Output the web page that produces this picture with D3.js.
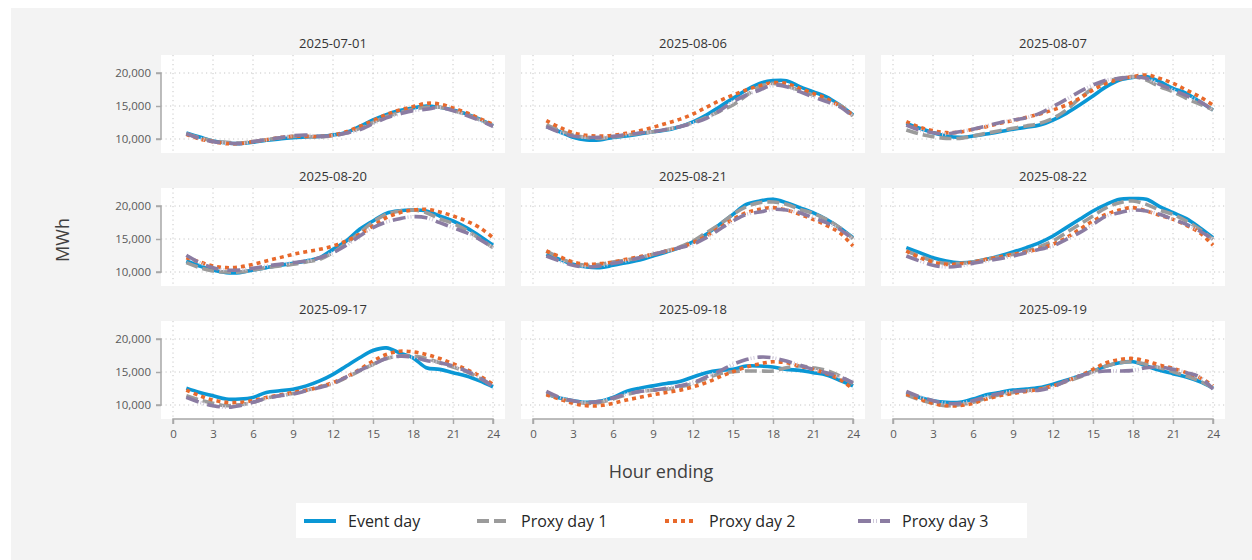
<!DOCTYPE html>
<html>
<head>
<meta charset="utf-8">
<script src="https://cdn.jsdelivr.net/npm/d3@7"></script>
<style>
  html, body { margin: 0; padding: 0; background: #ffffff; }
  svg { display: block; font-family: "Open Sans", "Noto Sans", sans-serif; }
</style>
</head>
<body>
<svg id="chart" width="1252" height="560"></svg>
<script>
// Hourly load profiles (MWh) for each event day and its three proxy days
const hours = d3.range(1, 25);
const panelDates = ["2025-07-01", "2025-08-06", "2025-08-07",
                    "2025-08-20", "2025-08-21", "2025-08-22",
                    "2025-09-17", "2025-09-18", "2025-09-19"];
const seriesNames = ["Event day", "Proxy day 1", "Proxy day 2", "Proxy day 3"];
const xTicks = [0, 3, 6, 9, 12, 15, 18, 21, 24];
const yTicks = [10000, 15000, 20000];

const eventDay = [
  [10900,10300,9700,9400,9300,9500,9800,10000,10200,10300,10400,10600,11000,11900,12900,13700,14300,14700,15000,14800,14400,13800,13000,12000],
  [11870,11100,10250,9850,9850,10250,10450,10750,11100,11350,11870,12600,13640,14900,16160,17420,18430,18840,18840,17930,17170,16400,15150,13640],
  [12370,11620,10960,10450,10250,10450,10750,11100,11470,11770,12120,12880,13890,15150,16520,17930,18940,19340,19450,18690,17680,16920,15660,14400],
  [11670,10910,10300,9900,9900,10300,10660,11010,11310,11670,12170,13430,14700,16470,17730,18890,19290,19390,19240,18490,17730,16720,15450,14040],
  [12680,11920,11160,10760,10660,11010,11410,11820,12420,13030,13690,14550,15710,17220,18740,20250,20760,21010,20510,19750,18990,17980,16720,15200],
  [13690,12930,12170,11670,11410,11520,11920,12420,13030,13690,14450,15450,16720,17980,19240,20250,21010,21110,21010,19900,18990,18080,16720,15200],
  [12550,11900,11400,10900,10900,11150,11900,12150,12400,12900,13650,14650,15900,17150,18250,18650,17900,17150,15650,15400,14900,14400,13650,12750],
  [11650,11050,10650,10400,10550,11150,12050,12550,12900,13250,13550,14250,14900,15250,15400,15900,15900,15750,15400,15250,14900,14550,13750,12900],
  [11900,11150,10650,10400,10400,10900,11550,11900,12250,12400,12650,13150,13750,14400,15150,15900,16400,16550,15900,15250,14750,14250,13550,12550]
];
const proxyDay1 = [
  [10800,10200,9700,9500,9400,9600,9900,10200,10400,10400,10300,10500,10900,11600,12500,13400,14000,14500,14800,14800,14300,13700,12900,12000],
  [12120,11300,10600,10250,10100,10300,10600,10850,11100,11450,11870,12500,13280,14200,15150,16600,17930,18430,18030,17350,16670,15900,15150,13490],
  [11360,10760,10350,10100,10100,10450,10860,11260,11620,11970,12370,13130,14400,16160,17680,18690,19190,19450,18940,17930,17170,16160,15300,14400],
  [11410,10660,10150,10000,10000,10300,10660,10910,11160,11520,11920,12930,14340,15960,17580,18740,19240,19390,18990,18080,17370,16360,15050,13690],
  [13180,12170,11310,11010,11160,11520,11820,12170,12680,13180,13790,14700,15960,17220,18740,19900,20510,20610,20250,19500,18890,17980,16720,15050],
  [13180,12420,11670,11310,11310,11520,11920,12320,12680,13180,13840,14700,15960,17220,18490,19750,20510,20760,20250,19390,18740,17730,16470,14950],
  [11400,10750,10250,9900,10050,10400,11050,11400,11750,12250,12750,13250,14150,15150,16150,17050,17400,17400,17050,16400,15750,15050,14050,12900],
  [11750,11050,10550,10250,10400,10900,11550,12050,12250,12400,12750,13250,14050,14750,15050,15150,15150,15150,15650,15900,15650,15250,14400,13250],
  [11550,10800,10250,9900,10050,10400,11050,11550,11900,12150,12400,12900,13550,14250,15050,15900,16400,16550,16150,15650,15050,14400,13650,12550]
];
const proxyDay2 = [
  [10700,10000,9600,9300,9300,9600,9900,10200,10400,10400,10400,10600,11100,11900,12800,13700,14400,14900,15400,15300,14700,14000,13100,12200],
  [12780,11770,10960,10560,10450,10560,10860,11260,11770,12370,12980,13790,14800,15800,16670,17430,18080,18540,18430,17680,16920,16160,15000,13640],
  [12630,11770,11260,10960,11060,11470,11870,12370,12780,13280,13790,14400,15150,16160,17430,18430,19040,19450,19700,19190,18430,17430,16420,15150],
  [12170,11520,10910,10660,10760,11160,11670,12170,12680,13080,13430,13940,14700,15710,16970,18230,18990,19390,19500,19090,18490,17730,16720,15200],
  [13180,12320,11520,11160,11260,11520,11920,12320,12680,13180,13690,14450,15450,16720,17980,18990,19500,19750,19390,18740,17980,17070,15960,13940],
  [13180,12170,11520,11160,11260,11520,11920,12270,12680,13030,13540,14200,15200,16470,17730,18740,19390,19750,19240,18590,17980,17070,15960,14040],
  [12250,11400,10750,10400,10400,10650,11150,11500,11900,12250,12750,13400,14250,15400,16650,17650,18150,18050,17650,17050,16250,15400,14400,13150],
  [11550,10900,10250,9900,9900,10250,10750,11150,11550,11900,12250,12750,13400,14250,15050,15750,16250,16550,16400,15900,15400,14750,13900,12400],
  [11650,10900,10250,9900,9900,10250,10900,11400,11750,12050,12400,12900,13650,14400,15400,16400,16900,17050,16650,16050,15550,14900,14150,12900]
];
const proxyDay3 = [
  [10800,10100,9600,9400,9300,9600,9900,10200,10500,10600,10400,10500,10900,11400,12300,13200,13800,14300,14500,14800,14300,13600,12800,11900],
  [11870,11000,10450,10250,10250,10400,10650,10900,11100,11450,11870,12400,13130,14300,15660,16670,17430,18180,17930,17170,16400,15660,14900,13390],
  [12120,11360,10960,10760,11110,11470,11970,12480,12880,13230,13890,14900,16010,17170,18180,18940,19190,19390,19190,18280,17430,16570,15660,14400],
  [12530,11410,10660,10300,10300,10560,10910,11160,11410,11670,12170,12930,14040,15450,16720,17580,18080,18380,18230,17480,16720,15960,14950,13690],
  [12420,11670,11010,10760,10910,11310,11670,12170,12680,13180,13690,14200,15200,16470,17730,18740,19090,19500,19390,18990,18230,17480,16470,14950],
  [12420,11670,11010,10760,10910,11310,11670,12020,12420,12930,13430,13940,14950,15960,17220,18490,18990,19390,19240,18740,17980,17220,16210,14950],
  [11150,10400,9900,9650,9900,10400,11000,11400,11650,12150,12650,13250,14250,15250,16150,17050,17400,17250,16750,16400,15900,15150,14150,12750],
  [12050,11150,10650,10400,10550,11050,11650,12050,12250,12550,12900,13400,14250,15150,16150,16900,17250,17150,16650,16050,15400,14900,14250,13400],
  [12050,11250,10650,10250,10250,10650,11250,11750,12050,12150,12250,12750,13650,14400,14900,15150,15150,15250,15650,15750,15400,14900,14250,12400]
];

const allSeries = [eventDay, proxyDay1, proxyDay2, proxyDay3];

// Line styles per series; the last one adds faint ticks inside its dash gaps
const seriesStyle = [
  { color: "#0a97d5", dash: null },
  { color: "#9b9b9b", dash: "12,5" },
  { color: "#e8692b", dash: "4,4" },
  { color: "#8b7ca2", dash: "13,9", dots: { color: "#cfc8da", dash: "1,2,1,18", offset: -15 } }
];

// Layout
const colX = [161, 521, 881];
const rowY = [55, 188, 321];
const panelW = 344, panelH = 98;

const svg = d3.select("#chart");

svg.append("rect")
  .attr("x", 11).attr("y", 8)
  .attr("width", 1252 - 11).attr("height", 560 - 8)
  .attr("fill", "#f3f3f3");

const line = d3.line().curve(d3.curveCatmullRom.alpha(0.5));

function drawStyled(sel, d, st, width) {
  sel.append("path")
    .attr("d", d)
    .attr("fill", "none")
    .attr("stroke", st.color)
    .attr("stroke-width", width)
    .attr("stroke-dasharray", st.dash);
  if (st.dots) {
    sel.append("path")
      .attr("d", d)
      .attr("fill", "none")
      .attr("stroke", st.dots.color)
      .attr("stroke-width", width)
      .attr("stroke-dasharray", st.dots.dash)
      .attr("stroke-dashoffset", st.dots.offset);
  }
}

panelDates.forEach((date, i) => {
  const col = i % 3, row = Math.floor(i / 3);
  const px = colX[col], py = rowY[row];

  const x = d3.scaleLinear().domain([0, 24]).range([px + 12, px + 332]);
  const y = d3.scaleLinear().domain([10000, 20000]).range([py + 84, py + 18]);

  const g = svg.append("g");

  g.append("rect")
    .attr("x", px).attr("y", py)
    .attr("width", panelW).attr("height", panelH)
    .attr("fill", "#ffffff");

  // dotted grid
  g.selectAll(".vg").data(xTicks).join("line")
    .attr("x1", d => x(d)).attr("x2", d => x(d))
    .attr("y1", py).attr("y2", py + panelH)
    .attr("stroke", "#c6c6c6").attr("stroke-width", 1)
    .attr("stroke-dasharray", "1.2,3.3");
  g.selectAll(".hg").data(yTicks).join("line")
    .attr("x1", px).attr("x2", px + panelW)
    .attr("y1", d => y(d)).attr("y2", d => y(d))
    .attr("stroke", "#c6c6c6").attr("stroke-width", 1)
    .attr("stroke-dasharray", "1.2,3.3");

  // panel title
  svg.append("text")
    .attr("x", px + panelW / 2).attr("y", py - 7)
    .attr("text-anchor", "middle")
    .attr("font-size", 13).attr("font-weight", 500).attr("fill", "#333333")
    .text(date);

  // left axis on the first column
  if (col === 0) {
    const ya = svg.append("g").attr("transform", `translate(${px},0)`)
      .call(d3.axisLeft(y).tickValues(yTicks).tickSize(5).tickPadding(5)
        .tickFormat(d3.format(",")));
    ya.select(".domain").attr("d", `M-5,${y(20000)}H0V${y(10000)}H-5`)
      .attr("stroke", "#a8a8a8").attr("stroke-width", 1.5);
    ya.selectAll(".tick line").attr("stroke", "#a8a8a8").attr("stroke-width", 1.5);
    ya.selectAll(".tick text").attr("font-size", 11.5).attr("fill", "#595959")
      .attr("font-family", "'Open Sans', sans-serif");
  }

  // bottom axis on the last row
  if (row === 2) {
    const xa = svg.append("g").attr("transform", `translate(0,${py + panelH})`)
      .call(d3.axisBottom(x).tickValues(xTicks).tickSize(5).tickPadding(6));
    xa.select(".domain").attr("d", `M${x(0)},5V0H${x(24)}V5`)
      .attr("stroke", "#a8a8a8").attr("stroke-width", 1.5);
    xa.selectAll(".tick line").attr("stroke", "#a8a8a8").attr("stroke-width", 1.5);
    xa.selectAll(".tick text").attr("font-size", 11.5).attr("fill", "#595959")
      .attr("font-family", "'Open Sans', sans-serif");
  }

  // series lines
  allSeries.forEach((series, s) => {
    const vals = series[i];
    const pts = hours.map((h, k) => [x(h), y(vals[k])]);
    drawStyled(g, line(pts), seriesStyle[s], 3.6);
  });
});

// axis titles
svg.append("text")
  .attr("transform", "translate(69,240) rotate(-90)")
  .attr("text-anchor", "middle")
  .attr("font-size", 18).attr("fill", "#404040")
  .text("MWh");
svg.append("text")
  .attr("x", 661).attr("y", 478)
  .attr("text-anchor", "middle")
  .attr("font-size", 18).attr("fill", "#404040")
  .text("Hour ending");

// legend
const legendX = [304, 477, 665, 858];
const lg = svg.append("g");
lg.append("rect")
  .attr("x", 296).attr("y", 503).attr("width", 731).attr("height", 35)
  .attr("fill", "#ffffff");
seriesNames.forEach((name, s) => {
  const y0 = 521;
  drawStyled(lg, `M${legendX[s]},${y0}H${legendX[s] + 32}`, seriesStyle[s], 4);
  lg.append("text")
    .attr("x", legendX[s] + 44).attr("y", 527)
    .attr("font-size", 16).attr("fill", "#262626")
    .text(name);
});
</script>
</body>
</html>
